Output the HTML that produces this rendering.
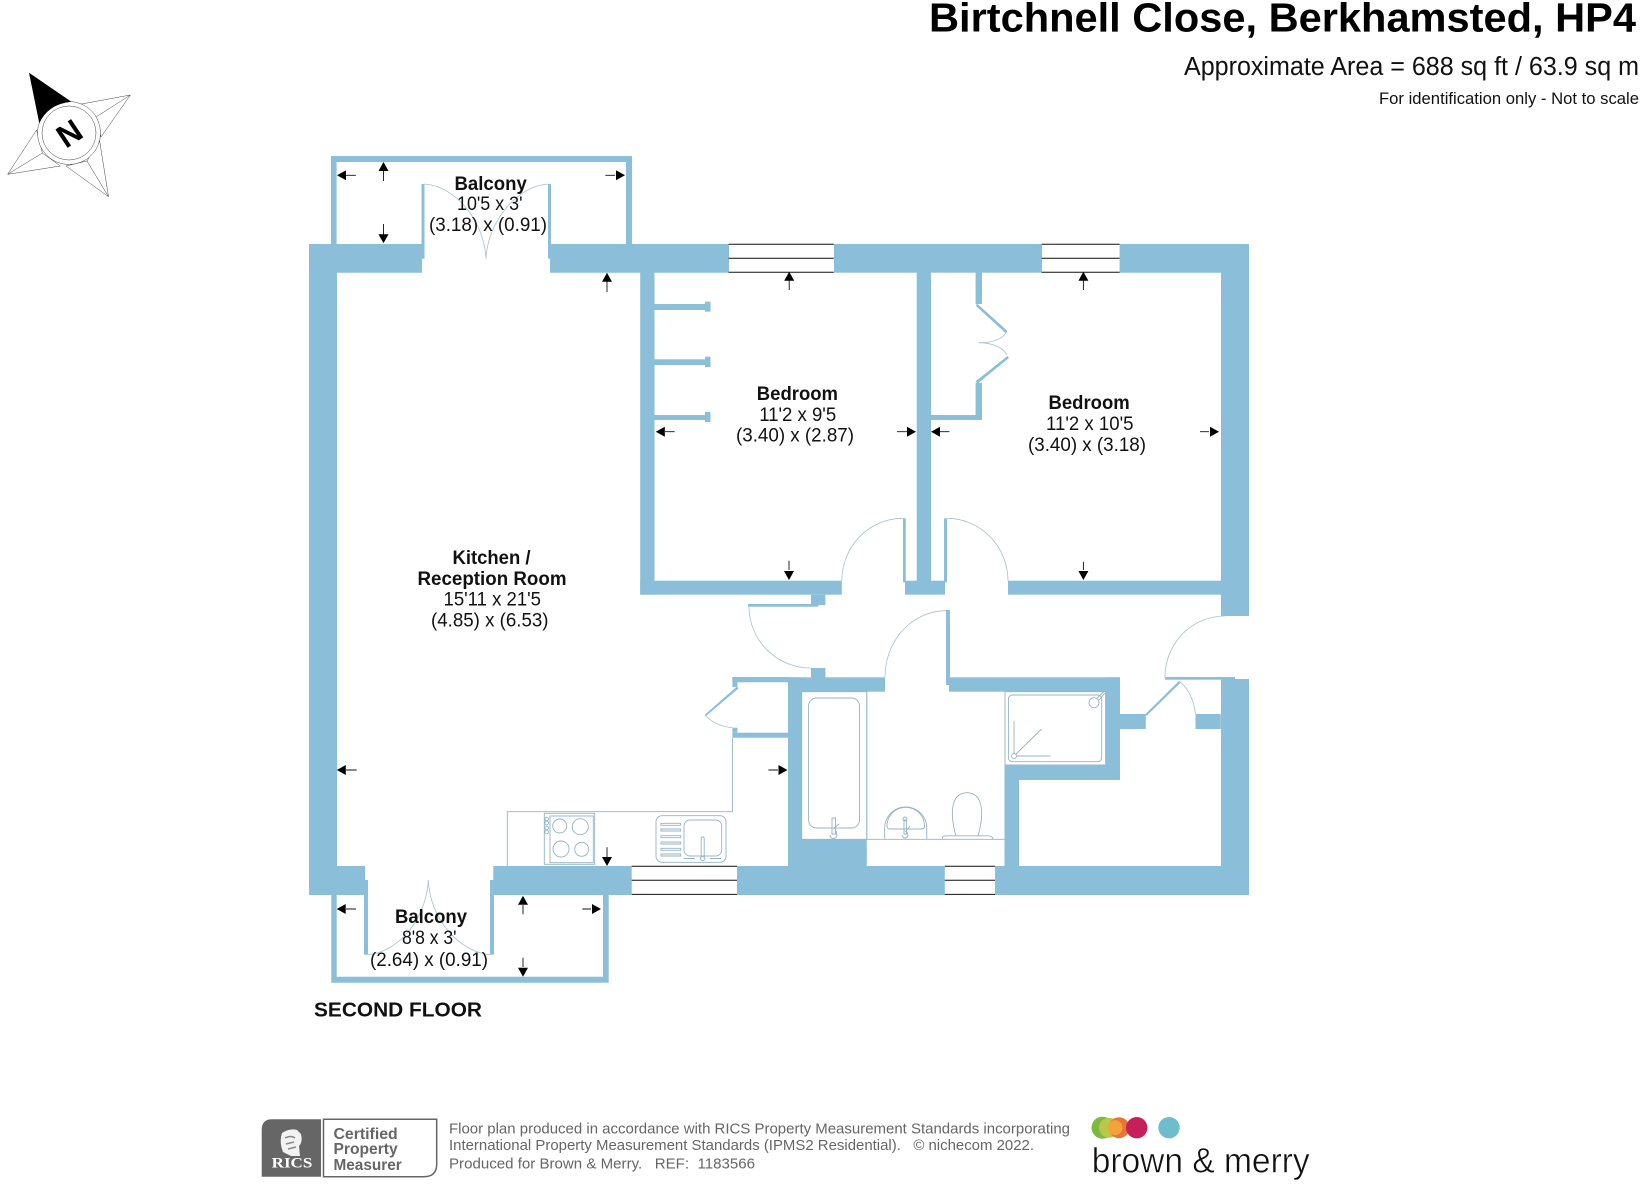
<!DOCTYPE html>
<html><head><meta charset="utf-8"><style>
html,body{margin:0;padding:0;background:#fff}
svg{display:block}
text{font-family:"Liberation Sans",sans-serif;fill:#111}
.b{font-weight:bold;font-size:19px}
.r{font-size:19px}
.f{font-size:15px;fill:#666}
.l{fill:none;stroke:#94b4c2;stroke-width:.9}
.ar{fill:none;stroke:#a6c0cc;stroke-width:.8}
.t{fill:none;stroke:#111;stroke-width:1}
.w{fill:#8bbed9}
.c{font-weight:bold;font-size:15.5px;fill:#666}
</style></head><body>
<svg width="1640" height="1184" viewBox="0 0 1640 1184" xmlns="http://www.w3.org/2000/svg">
<rect width="1640" height="1184" fill="#fff"/>

<!-- Compass -->
<g fill="#fff" stroke="#444" stroke-width=".5">
<path d="M130.4 95L80 104.3L96 117L101 137Z"/>
<path d="M108.5 196.7L99.5 140L87 161L66 166Z"/>
<path d="M7.6 174.3L36.6 130L42.4 153L60.3 166Z"/>
<path d="M130.4 95L96 117M108.5 196.7L87 161M7.6 174.3L42.4 153"/>
<circle cx="69" cy="133" r="31.5"/>
<circle cx="69" cy="133" r="27"/>
</g>
<path d="M29 72.7L71.4 101.7Q48 104 39.3 123.3Z" fill="#000"/>
<text x="0" y="0" transform="translate(69 133) rotate(-33.7) translate(-11.5 11.5)" style="font-weight:bold;font-size:32px;fill:#000">N</text>

<!-- Header -->
<text x="929" y="31.5" textLength="707" lengthAdjust="spacingAndGlyphs" style="font-weight:bold;font-size:41px;fill:#000">Birtchnell Close, Berkhamsted, HP4</text>
<text x="1184" y="75" textLength="455" lengthAdjust="spacingAndGlyphs" style="font-size:25.5px">Approximate Area = 688 sq ft / 63.9 sq m</text>
<text x="1379" y="104" textLength="260" lengthAdjust="spacingAndGlyphs" style="font-size:16.5px">For identification only - Not to scale</text>

<!-- Thin lines under walls -->
<g class="l">
<path d="M732.4 737.7V811.7H507.3V866"/>
<rect x="801.7" y="691.7" width="65.1" height="147.6"/>
<rect x="808.6" y="698" width="50.9" height="130" rx="8"/>
<path d="M866.8 839.3H1004.5"/>
<path d="M866.8 691.7V839.3"/>
<rect x="1005" y="691.7" width="100.6" height="73.3"/>
<rect x="1008.4" y="695" width="93.3" height="66.7" rx="4"/>
<circle cx="1014" cy="756" r="2.5"/>
<path d="M1014 753.5V721M1016.5 756H1050.5M1016 754L1041.6 729"/>
<circle cx="1094" cy="702.7" r="5"/>
<path d="M1097 698L1104 691.5M1099 700L1105 693"/>
<!-- bath tap -->
<path d="M832 818h3.5v16h-3.5zM834 828l5-4M830 835a3 3 0 0 0 7 0l-1-4"/>
<!-- basin -->
<path d="M884.7 839.3V828A21 21 0 0 1 926.8 828V839.3"/>
<path d="M887 826A18.5 18.5 0 0 1 924.5 826Q925 829 921 829H890Q887 829 887 826Z"/>
<circle cx="905" cy="819" r="2"/>
<path d="M904 820h2.5v14h-2.5zM905 832l5-6M902 835a3 3 0 0 0 6 0l-1-3"/>
<!-- toilet -->
<path d="M956 836C950 815 950 793 967 792.7C984 793 984 815 978 836"/>
<path d="M942.5 839.3V837Q943 835.8 948 835.8H988Q993 836 993 839.3"/>
<!-- hob -->
<rect x="544.3" y="813.3" width="50.4" height="51"/>
<rect x="550" y="816" width="43.3" height="46.7"/>
<circle cx="559.7" cy="826" r="7"/><circle cx="580.3" cy="826.7" r="8"/>
<circle cx="561" cy="849" r="8"/><circle cx="581.7" cy="849.3" r="7"/>
<circle cx="546.7" cy="819" r="1.8"/><circle cx="546.7" cy="823" r="1.8"/><circle cx="546.7" cy="828" r="1.8"/><circle cx="546.7" cy="832" r="1.8"/>
<!-- sink -->
<rect x="656" y="815.7" width="70" height="46.6" rx="6"/>
<rect x="684" y="820" width="37.7" height="36" rx="6"/>
<path d="M661 823.3H680.7v2H661zM661 829H680.7v2H661zM661 835.7H680.7v2H661zM661 842H680.7v2H661zM661 848.3H680.7v2H661zM661 854H680.7v2H661z"/>
<path d="M701.2 858V838.5a1.5 1.5 0 0 1 3 0V858"/>
<circle cx="702.7" cy="858.5" r="2.2"/>
<path d="M684 858.5h11M710 858.5h11"/>
</g>

<!-- Walls -->
<g class="w">
<path d="M309 244H424.5V258.7H422V272.7H337V895H309Z"/>
<path d="M548 244H729V272.7H550V258.7H548Z"/>
<rect x="834" y="244" width="208" height="28.7"/>
<path d="M1119.6 244H1249V616H1221V272.7H1119.6Z"/>
<path d="M331 244V156H632V244H626V162H336.6V244Z"/>
<rect x="421.5" y="184" width="3" height="60"/>
<rect x="548" y="184" width="3" height="60"/>
<rect x="640.2" y="272" width="14.3" height="322.7"/>
<rect x="640.2" y="580.7" width="201.6" height="14"/>
<rect x="654" y="304" width="51" height="6"/><rect x="705" y="301.7" width="5.5" height="10"/>
<rect x="654" y="359.3" width="51" height="5.7"/><rect x="705" y="356.7" width="5.5" height="10.3"/>
<rect x="654" y="415" width="51" height="5"/><rect x="705" y="412" width="5.5" height="10"/>
<rect x="916.7" y="272" width="14.3" height="310"/>
<rect x="905" y="580.7" width="40" height="14"/>
<rect x="903" y="518.3" width="2.8" height="64"/>
<rect x="944" y="518.3" width="3" height="64"/>
<rect x="1008" y="580.7" width="213" height="14"/>
<rect x="975.6" y="272" width="6.4" height="32"/>
<path d="M977 303.5L1007.5 331L1005.5 333L976 306Z"/>
<path d="M1007.5 356L976 381L977 384L1009 358Z"/>
<rect x="975.6" y="382.7" width="6.4" height="37.3"/>
<rect x="931" y="415" width="51" height="5"/>
<rect x="811" y="594.7" width="14.4" height="10.3"/>
<rect x="748" y="604" width="70.5" height="2.7"/>
<rect x="811" y="668" width="14.4" height="10"/>
<rect x="788" y="677.3" width="97" height="14.4"/>
<rect x="732.4" y="677" width="56" height="5.3"/>
<rect x="732.4" y="677" width="5" height="10"/>
<path d="M737 686.5L705 714.5L706 716L738.5 688.5Z"/>
<rect x="732.4" y="727.7" width="5" height="5"/>
<rect x="732.4" y="732.7" width="56" height="5"/>
<rect x="788" y="677.3" width="13.7" height="189"/>
<rect x="788" y="839.3" width="78.8" height="27"/>
<rect x="946" y="610" width="4" height="75"/>
<rect x="949" y="677.3" width="171" height="14.4"/>
<rect x="1105.6" y="677.3" width="14.4" height="102.7"/>
<rect x="1004.5" y="765" width="115.5" height="15"/>
<rect x="1004.5" y="765" width="14.5" height="102"/>
<rect x="1120" y="714" width="25.8" height="15"/>
<path d="M1145.5 714L1179 681L1180.7 682.5L1146.5 716Z"/>
<rect x="1165" y="677" width="70" height="2.7"/>
<rect x="1195.5" y="714" width="25.3" height="15"/>
<rect x="1221" y="679" width="28" height="216"/>
<path d="M490 895V880H493.3V866H631.7V895Z"/>
<rect x="737" y="866" width="207.8" height="29"/>
<rect x="995" y="866" width="254" height="29"/>
<path d="M309 866H365V880H368V895H309Z"/>
<path d="M331.3 895V982.7H608.7V895H603V976.7H336.7V895Z"/>
<rect x="364" y="895" width="4" height="59.7"/>
<rect x="490" y="895" width="4" height="59.7"/>
</g>

<!-- Windows -->
<g class="t">
<path d="M728.6 244.2H833.8M728.6 258.3H833.8M728.6 272.3H833.8"/>
<path d="M1041.7 244.2H1119.6M1041.7 258.3H1119.6M1041.7 272.3H1119.6"/>
<path d="M631.7 866.2H737M631.7 880.3H737M631.7 894.4H737"/>
<path d="M944.8 866.2H995M944.8 880.3H995M944.8 894.4H995"/>
</g>

<!-- Door arcs -->
<g class="ar">
<path d="M424.5 184C455 186 484 220 486 258.7"/>
<path d="M548 184C518 186 488 220 486 258.7"/>
<path d="M368 954.7C398 952 426 920 428.3 880"/>
<path d="M490 954.7C460 952 430 920 428.3 880"/>
<path d="M903 518.3A61 62.7 0 0 0 841.8 581"/>
<path d="M947 518.3A61 62.7 0 0 1 1008 581"/>
<path d="M749 606.7A62 61.3 0 0 0 811 668"/>
<path d="M946 610.7A61 66.3 0 0 0 885 677"/>
<path d="M1225 616A60 61 0 0 0 1165 677"/>
<path d="M1180 681.7Q1193 693 1195.5 714"/>
<path d="M1007 331.7Q1000 343 978.6 342.7Q1000 343 1007 355"/>
<path d="M705 715Q715 726 732.4 727.7"/>
</g>

<!-- Dimension arrows -->
<g stroke="#111" stroke-width=".9" fill="none">
<path d="M345 175.3H355.8M383.5 170V181M615 175.3H605.4M383.5 235V224M607 281V292"/>
<path d="M789.2 280V290M1083.4 280V290M665 431.7H674.7M907 431.7H897M940 431.7H949.5M1209 431.7H1200M789 570V560.7M1083.4 570V561.7"/>
<path d="M778 770H768.4M346 770H356.7M346 909H356M523 905V914.3M591 909H582.3M523 967V957.7M607 857V847.3"/>
</g>
<g fill="#000">
<path d="M337 175.3L346 170.3V180.3Z"/>
<path d="M383.5 162L378.5 171H388.5Z"/>
<path d="M625 175.3L616 170.3V180.3Z"/>
<path d="M383.5 243.3L378.5 234.3H388.5Z"/>
<path d="M607 272.7L602 281.7H612Z"/>
<path d="M789.2 271.7L784.2 280.7H794.2Z"/>
<path d="M1083.4 271.7L1078.4 280.7H1088.4Z"/>
<path d="M655.8 431.7L664.8 426.7V436.7Z"/>
<path d="M916 431.7L907 426.7V436.7Z"/>
<path d="M931 431.7L940 426.7V436.7Z"/>
<path d="M1219 431.7L1210 426.7V436.7Z"/>
<path d="M789 580L784 571H794Z"/>
<path d="M1083.4 580L1078.4 571H1088.4Z"/>
<path d="M787.5 770L778.5 765V775Z"/>
<path d="M336.8 770L345.8 765V775Z"/>
<path d="M336.7 909L345.7 904V914Z"/>
<path d="M523 895.7L518 904.7H528Z"/>
<path d="M601 909L592 904V914Z"/>
<path d="M523 976.7L518 967.7H528Z"/>
<path d="M607 866L602 857H612Z"/>
</g>

<!-- Room labels -->
<text class="b" x="454.5" y="190" textLength="72.3" lengthAdjust="spacingAndGlyphs">Balcony</text>
<text class="r" x="457" y="210" textLength="65.5" lengthAdjust="spacingAndGlyphs">10'5 x 3'</text>
<text class="r" x="429" y="231" textLength="118" lengthAdjust="spacingAndGlyphs">(3.18) x (0.91)</text>

<text class="b" x="756.8" y="400" textLength="81.2" lengthAdjust="spacingAndGlyphs">Bedroom</text>
<text class="r" x="759.2" y="421" textLength="77" lengthAdjust="spacingAndGlyphs">11'2 x 9'5</text>
<text class="r" x="736" y="441.7" textLength="118" lengthAdjust="spacingAndGlyphs">(3.40) x (2.87)</text>

<text class="b" x="1048.5" y="409" textLength="81.2" lengthAdjust="spacingAndGlyphs">Bedroom</text>
<text class="r" x="1046" y="430" textLength="87.5" lengthAdjust="spacingAndGlyphs">11'2 x 10'5</text>
<text class="r" x="1028" y="451" textLength="118" lengthAdjust="spacingAndGlyphs">(3.40) x (3.18)</text>

<text class="b" x="452.5" y="564" textLength="78" lengthAdjust="spacingAndGlyphs">Kitchen /</text>
<text class="b" x="417.5" y="585" textLength="149" lengthAdjust="spacingAndGlyphs">Reception Room</text>
<text class="r" x="443.5" y="605.7" textLength="97.5" lengthAdjust="spacingAndGlyphs">15'11 x 21'5</text>
<text class="r" x="431" y="626.7" textLength="117.5" lengthAdjust="spacingAndGlyphs">(4.85) x (6.53)</text>

<text class="b" x="395" y="923" textLength="72" lengthAdjust="spacingAndGlyphs">Balcony</text>
<text class="r" x="402" y="944" textLength="54.5" lengthAdjust="spacingAndGlyphs">8'8 x 3'</text>
<text class="r" x="370" y="966" textLength="118" lengthAdjust="spacingAndGlyphs">(2.64) x (0.91)</text>

<text x="314" y="1016.7" textLength="168" lengthAdjust="spacingAndGlyphs" style="font-weight:bold;font-size:20.5px">SECOND FLOOR</text>

<!-- RICS -->
<path d="M272 1119.3H321V1176.7H261.7V1130Q261.7 1119.3 272 1119.3Z" fill="#666"/>
<path d="M323.5 1119.3H436.7V1164Q436.7 1176.7 424 1176.7H323.5Z" fill="#fff" stroke="#666" stroke-width="1.5"/>
<path d="M282 1133Q290 1128 297 1130L301 1134Q303 1142 299 1146L300 1156H291L283 1152Q279 1142 282 1133Z" fill="#f2f2f2"/>
<path d="M285 1138Q291 1135 295 1138M286 1144L294 1142M288 1149L296 1147" stroke="#888" stroke-width="1.5" fill="none"/>
<text x="271.7" y="1167.3" textLength="40.6" lengthAdjust="spacingAndGlyphs" style="font-family:'Liberation Serif',serif;font-weight:bold;font-size:15px;fill:#fff">RICS</text>
<text class="c" x="333.5" y="1139" textLength="64.2" lengthAdjust="spacingAndGlyphs">Certified</text>
<text class="c" x="333.5" y="1153.8" textLength="64.2" lengthAdjust="spacingAndGlyphs">Property</text>
<text class="c" x="333.5" y="1170" textLength="68.2" lengthAdjust="spacingAndGlyphs">Measurer</text>

<!-- Footer text -->
<text class="f" x="449" y="1133.3" textLength="621" lengthAdjust="spacingAndGlyphs">Floor plan produced in accordance with RICS Property Measurement Standards incorporating</text>
<text class="f" x="449" y="1150" textLength="585" lengthAdjust="spacingAndGlyphs">International Property Measurement Standards (IPMS2 Residential).&#160;&#160; © nichecom 2022.</text>
<text class="f" x="449" y="1168.3" textLength="306" lengthAdjust="spacingAndGlyphs">Produced for Brown &amp; Merry.&#160;&#160; REF:&#160; 1183566</text>

<!-- Logo -->
<circle cx="1102.5" cy="1127.7" r="11" fill="#7cb93e"/>
<circle cx="1109" cy="1127.7" r="10" fill="#b8c94a"/>
<circle cx="1119" cy="1127.7" r="10.5" fill="#e8743a"/>
<circle cx="1115" cy="1127.7" r="7.5" fill="#f2a33c"/>
<circle cx="1136.7" cy="1127.7" r="10.7" fill="#c61f5c"/>
<circle cx="1169" cy="1127.7" r="10.7" fill="#6fbccd"/>
<text x="1091.7" y="1172.5" textLength="218" lengthAdjust="spacingAndGlyphs" stroke="#fff" stroke-width=".5" style="font-size:35px;fill:#111">brown &amp; merry</text>
</svg>
</body></html>
